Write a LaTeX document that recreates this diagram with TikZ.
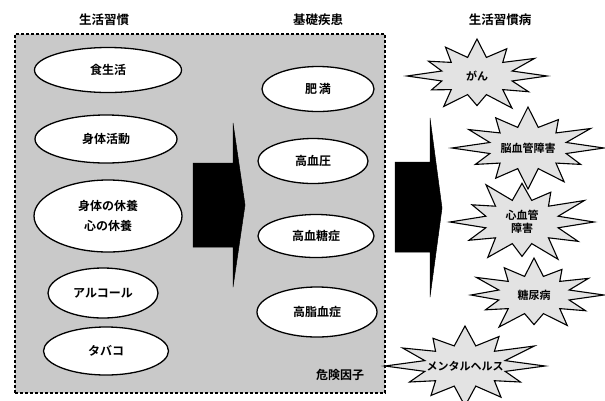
\documentclass[tikz,border=0pt]{standalone}
\usepackage{fontspec}
\setmainfont{Noto Sans CJK JP}[BoldFont={Noto Sans CJK JP Bold}]
\usetikzlibrary{shapes.geometric}
% #1 centre coordinate name, #2 rx, #3 ry, #4 inner ratio, #5 12 outer factors
\newcommand{\burstpoly}[5]{%
  \filldraw[burstline] ([shift={(#2,0)}]#1)
    \foreach \f [count=\k] in {#5} {
      -- ([shift={({#2*#4*cos(\k*30-15)},{#3*#4*sin(\k*30-15)})}]#1)
      -- ([shift={({#2*\f*cos(\k*30)},{#3*\f*sin(\k*30)})}]#1)
    } -- cycle;}
\begin{document}
\begin{tikzpicture}[x=1pt,y=-1pt,
  font=\bfseries\fontsize{12}{14}\selectfont,
  ell/.style={ellipse, draw=black, line width=1.3pt, fill=white, inner sep=0pt, align=center},
  burstline/.style={draw=black, line width=1.1pt, fill=gray!22, line join=miter},
  bursttext/.style={align=center, font=\bfseries\fontsize{11}{13}\selectfont},
  titlelbl/.style={font=\bfseries\fontsize{12.5}{14}\selectfont},
  blockarrow/.style={fill=black, draw=black, line width=0.5pt, line join=round}]
\useasboundingbox (0,0) rectangle (605,400);
% titles
\node[titlelbl] (t1) at (104,20) {生活習慣};
\node[titlelbl] (t2) at (318,20) {基礎疾患};
\node[titlelbl] (t3) at (500,20) {生活習慣病};
% dashed box
\node[draw, line width=1.2pt, dash pattern=on 3pt off 2pt, fill=gray!42,
  minimum width=370pt, minimum height=359pt, inner sep=0pt] (box) at (200,213.5) {};
\node (risk) at (340,375) {危険因子};
% left ellipses
\node[ell, minimum width=147pt, minimum height=45pt] (e1) at (108,70) {食生活};
\node[ell, minimum width=142pt, minimum height=48pt] (e2) at (106,139) {身体活動};
\node[ell, minimum width=148pt, minimum height=72pt] (e3) at (108,216) {身体の休養\\[6pt]心の休養};
\node[ell, minimum width=110pt, minimum height=50pt] (e4) at (103,293) {アルコール};
\node[ell, minimum width=125pt, minimum height=48pt] (e5) at (106,351) {タバコ};
% right ellipses
\node[ell, minimum width=112pt, minimum height=45pt] (r1) at (318,89) {肥\,満};
\node[ell, minimum width=110pt, minimum height=45pt] (r2) at (313,161) {高血圧};
\node[ell, minimum width=116pt, minimum height=43pt] (r3) at (316,236) {高血糖症};
\node[ell, minimum width=120pt, minimum height=50pt] (r4) at (317,312) {高脂血症};
% block arrows
\fill[blockarrow] (193,163) -- (233,163) -- (233,123) -- (245,205) -- (233,287) -- (233,247) -- (193,247) -- cycle;
\fill[blockarrow] (395,162) -- (430,162) -- (430,118) -- (442,208) -- (430,297) -- (430,252) -- (395,252) -- cycle;
% starbursts
\coordinate (c1) at (477,76);
\coordinate (c2) at (528,148);
\coordinate (c3) at (522,222);
\coordinate (c4) at (534,295);
\coordinate (c5) at (465,366);
\burstpoly{c1}{70}{37}{0.52}{0.85,1.0,0.8,0.95,0.75,1.0,0.8,0.9,1.0,0.85,0.95,1.0}
\burstpoly{c2}{76}{41}{0.52}{0.8,0.95,1.0,0.85,0.8,1.0,0.9,0.85,1.0,0.8,0.95,1.0}
\burstpoly{c3}{72}{43}{0.52}{0.9,1.0,0.8,0.95,0.85,1.0,0.8,1.0,0.9,0.8,1.0,1.0}
\burstpoly{c4}{70}{37}{0.52}{0.85,0.95,0.8,1.0,0.8,0.9,0.95,0.85,1.0,0.8,0.9,1.0}
\burstpoly{c5}{80}{40}{0.52}{0.8,0.9,1.0,0.85,0.8,1.0,0.9,0.8,1.0,0.85,1.0,1.0}
\node[bursttext] (b1) at (c1) {がん};
\node[bursttext] (b2) at (c2) {脳血管障害};
\node[bursttext] (b3) at (c3) {心血管\\障害};
\node[bursttext] (b4) at (c4) {糖尿病};
\node[bursttext] (b5) at (c5) {メンタルヘルス};
\end{tikzpicture}
\end{document}
